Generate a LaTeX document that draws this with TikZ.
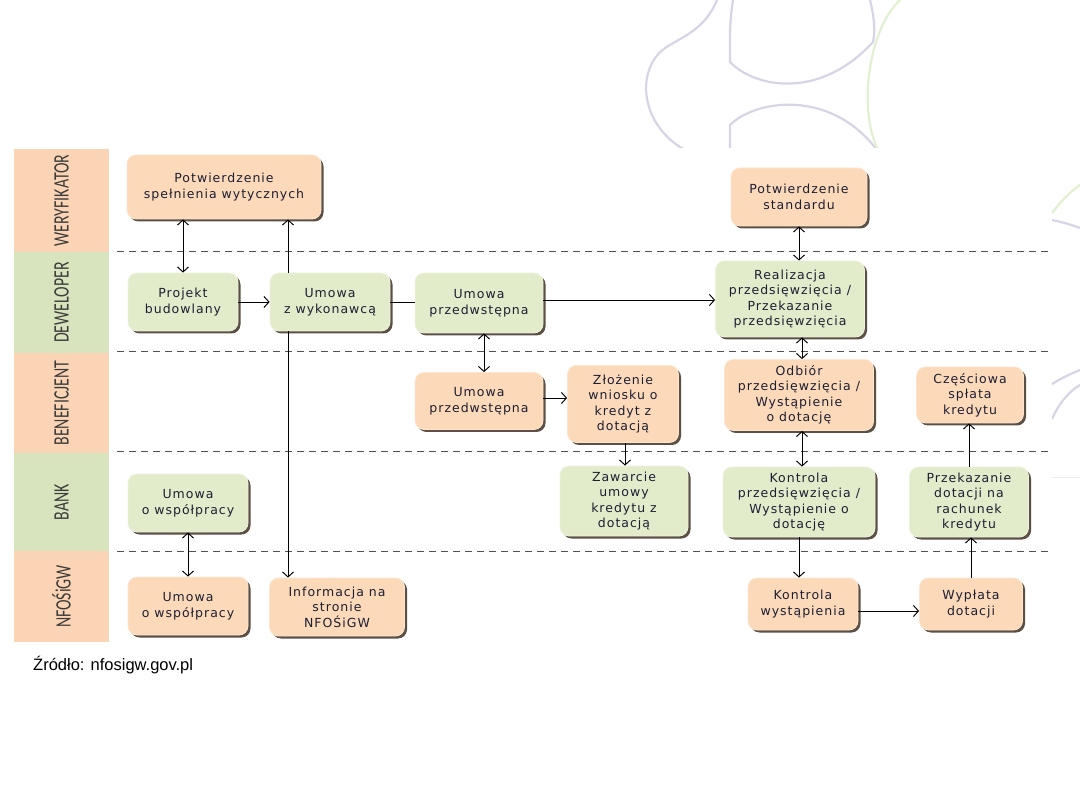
\documentclass[tikz,border=0pt]{standalone}
\usepackage{fontspec}
\setmainfont{DejaVu Sans}
\newfontfamily\boxfont[LetterSpace=8]{DejaVu Sans}
\newfontfamily\lanefont{Carlito}
\newfontfamily\srcfont{Liberation Sans}
\usepackage{tikz}
\usetikzlibrary{arrows.meta,positioning,shadows}
\usepackage{xcolor}
\definecolor{peachlane}{HTML}{FAD4B4}
\definecolor{greenlane}{HTML}{D8E4BD}
\definecolor{peachfill}{HTML}{FCD9B9}
\definecolor{peachedge}{HTML}{FBE6D2}
\definecolor{greenfill}{HTML}{E2EBCA}
\definecolor{greenedge}{HTML}{EEF3DF}
\definecolor{shadowcol}{HTML}{4A3C30}
\definecolor{boxtext}{HTML}{1E1E34}
\definecolor{lanetext}{HTML}{3C3C3C}
\definecolor{sepcol}{HTML}{505050}
\definecolor{decopurple}{HTML}{D6D5E5}
\definecolor{decogreen}{HTML}{E2F0D2}
\newcommand{\lanelabel}[1]{\scalebox{0.72}[1]{#1}}

\begin{document}
\begin{tikzpicture}[x=1pt, y=-1pt,
  lane/.style={rotate=90, minimum height=95, inner sep=0pt, font=\lanefont\fontsize{22}{24}\selectfont, text=lanetext},
  box/.style={rounded corners=9pt, align=center, inner sep=2pt, line width=0.8pt, text=boxtext, font=\boxfont\fontsize{12.5}{15.5}\selectfont, drop shadow={shadow xshift=2.5pt, shadow yshift=-2.5pt, fill=shadowcol, opacity=0.9}},
  peachbox/.style={box, fill=peachfill, draw=peachedge},
  greenbox/.style={box, fill=greenfill, draw=greenedge},
  arrow/.style={-{Straight Barb[length=5pt,width=11pt]}, line width=0.95pt},
  twoway/.style={{Straight Barb[length=5pt,width=11pt]}-{Straight Barb[length=5pt,width=11pt]}, line width=0.95pt},
  lanesep/.style={dash pattern=on 7pt off 5pt, line width=1pt, sepcol},
  deco/.style={line width=2.2pt, line cap=round}
]
\useasboundingbox (0,0) rectangle (1080,810);

\begin{scope}
\clip (0,0) -- (1080,0) -- (1080,810) -- (1052,810) -- (1052,148) -- (0,148) -- cycle;
\draw[deco, decopurple] (717,0) .. controls (705,30) and (680,38) .. (665,48) .. controls (635,70) and (640,125) .. (685,150);
\draw[deco, decopurple] (733,0) .. controls (729,25) and (730,45) .. (730,62) .. controls (755,88) and (820,100) .. (873,42) .. controls (876,28) and (873,12) .. (870,0);
\draw[deco, decopurple] (730,150) -- (730,125) .. controls (755,100) and (830,88) .. (877,150);
\draw[deco, decogreen] (900,0) .. controls (868,30) and (858,110) .. (878,150);
\draw[deco, decogreen] (1052,213) .. controls (1062,200) and (1070,192) .. (1080,185);
\draw[deco, decopurple] (1052,220) .. controls (1062,222) and (1072,225) .. (1080,228);
\draw[deco, decopurple] (1052,384) .. controls (1060,379) and (1070,374) .. (1080,370);
\draw[deco, decopurple] (1052,419) .. controls (1058,405) and (1068,392) .. (1080,385);
\draw[line width=1pt, black!8] (1052,478) -- (1080,478);
\end{scope}

\node[lane, fill=peachlane, minimum width=103] (weryf) at (61.5,200.5) {\lanelabel{WERYFIKATOR}};
\node[lane, fill=greenlane, minimum width=101] (dewel) at (61.5,302.5) {\lanelabel{DEWELOPER}};
\node[lane, fill=peachlane, minimum width=100] (benef) at (61.5,403) {\lanelabel{BENEFICJENT}};
\node[lane, fill=greenlane, minimum width=98] (bank) at (61.5,502) {\lanelabel{BANK}};
\node[lane, fill=peachlane, minimum width=91] (nfos) at (61.5,596.5) {\lanelabel{NFOŚiGW}};

\foreach \y in {252,352,452,551}
  \draw[lanesep] (117,\y) -- (1048,\y);

\node[peachbox, minimum width=194, minimum height=64] (potwWyt) at (224,187) {Potwierdzenie\\spełnienia wytycznych};
\node[greenbox, minimum width=110, minimum height=58] (projekt) at (183,302) {Projekt\\budowlany};
\node[greenbox, minimum width=120, minimum height=58] (wykon) at (330,302) {Umowa\\z wykonawcą};
\node[greenbox, minimum width=128, minimum height=60] (przedDew) at (479,303) {Umowa\\przedwstępna};
\node[greenbox, minimum width=149, minimum height=76] (realiz) at (790,299) {Realizacja\\przedsięwzięcia /\\Przekazanie\\przedsięwzięcia};
\node[peachbox, minimum width=136, minimum height=58] (potwStd) at (799,197) {Potwierdzenie\\standardu};
\node[peachbox, minimum width=128, minimum height=57] (przedBen) at (479,401) {Umowa\\przedwstępna};
\node[peachbox, minimum width=111, minimum height=77] (wniosek) at (623,404) {Złożenie\\wniosku o\\kredyt z\\dotacją};
\node[greenbox, minimum width=128, minimum height=70] (zawarcie) at (624,501) {Zawarcie\\umowy\\kredytu z\\dotacją};
\node[peachbox, minimum width=149, minimum height=71] (odbior) at (799,395) {Odbiór\\przedsięwzięcia /\\Wystąpienie\\o dotację};
\node[peachbox, minimum width=107, minimum height=56] (splata) at (970,395) {Częściowa\\spłata\\kredytu};
\node[greenbox, minimum width=152, minimum height=70] (kontrola) at (799,502) {Kontrola\\przedsięwzięcia /\\Wystąpienie o\\dotację};
\node[greenbox, minimum width=119, minimum height=70] (przekaz) at (969,502) {Przekazanie\\dotacji na\\rachunek\\kredytu};
\node[peachbox, minimum width=110, minimum height=52] (kontrWyst) at (803,604) {Kontrola\\wystąpienia};
\node[peachbox, minimum width=103, minimum height=52] (wyplata) at (971,604) {Wypłata\\dotacji};
\node[greenbox, minimum width=120, minimum height=58] (wspBank) at (188,503) {Umowa\\o współpracy};
\node[peachbox, minimum width=120, minimum height=58] (wspNfos) at (188,606) {Umowa\\o współpracy};
\node[peachbox, minimum width=135, minimum height=58] (info) at (337,607) {Informacja na\\stronie\\NFOŚiGW};

\node[anchor=base west, inner sep=0pt, font=\srcfont\fontsize{16.5}{19}\selectfont] (source) at (33,670) {Źródło: nfosigw.gov.pl};

\draw[twoway] (projekt.north) -- (projekt.north |- potwWyt.south);
\draw[arrow] (projekt.east) -- (projekt.east -| wykon.west);
\draw[arrow] ([xshift=-42pt]wykon.north) -- ([xshift=-42pt]wykon.north |- potwWyt.south);
\draw[arrow] ([xshift=-42pt]wykon.south) -- ([xshift=-42pt]wykon.south |- info.north);
\draw[line width=0.95pt] (wykon.east) -- (wykon.east -| przedDew.west);
\draw[arrow] ([yshift=3pt]przedDew.east) -- ([yshift=3pt]przedDew.east -| realiz.west);
\draw[twoway] ([xshift=5pt]przedDew.south) -- ([xshift=5pt]przedDew.south |- przedBen.north);
\draw[arrow] ([yshift=3pt]przedBen.east) -- ([yshift=3pt]przedBen.east -| wniosek.west);
\draw[arrow] ([xshift=2pt]wniosek.south) -- ([xshift=2pt]wniosek.south |- zawarcie.north);
\draw[twoway] (potwStd.south) -- (potwStd.south |- realiz.north);
\draw[twoway] ([xshift=3pt]odbior.north) -- ([xshift=3pt]odbior.north |- realiz.south);
\draw[twoway] ([xshift=3pt]odbior.south) -- ([xshift=3pt]odbior.south |- kontrola.north);
\draw[arrow] (kontrola.south) -- (kontrola.south |- kontrWyst.north);
\draw[arrow] ([yshift=-7pt]kontrWyst.east) -- ([yshift=-7pt]kontrWyst.east -| wyplata.west);
\draw[arrow] (wyplata.north) -- (wyplata.north |- przekaz.south);
\draw[arrow] (przekaz.north) -- (przekaz.north |- splata.south);
\draw[twoway] (wspBank.south) -- (wspNfos.north);
\end{tikzpicture}
\end{document}
